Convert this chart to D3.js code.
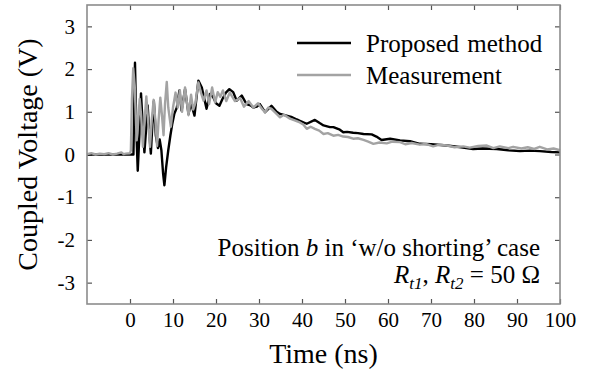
<!DOCTYPE html>
<html>
<head>
<meta charset="utf-8">
<script src="https://cdn.jsdelivr.net/npm/d3@7"></script>
<style>
  body { margin: 0; background: #fff; }
  svg, svg text { font-family: "Liberation Serif", "Times New Roman", serif; }
</style>
</head>
<body>
<div id="chart"></div>
<script>
// series: [time (ns), voltage (V)]
const proposed = [
  [-10,0],[0.8,0],[1.16,2.15],[1.5,0.5],[1.8,-0.38],[2.2,0.5],[2.56,1.43],[2.95,0.7],
  [3.35,0.05],[3.75,0.6],[4.1,1.15],[4.5,0.5],[4.85,0.02],[5.2,0.7],[5.55,1.25],[6.0,0.45],
  [6.5,0.15],[6.9,0.35],[7.3,0.1],[7.7,-0.45],[8.0,-0.72],[8.4,-0.3],[8.9,0.1],[9.4,0.45],
  [9.8,0.7],[10.3,0.95],[10.9,1.1],[11.5,1.5],[12.0,1.03],[12.8,1.53],[13.6,0.95],[14.2,1.2],
  [15.0,0.91],[15.9,1.73],[16.7,1.57],[17.2,1.34],[17.8,1.07],[18.6,1.42],[19.3,1.35],[20.0,1.2],
  [20.8,1.14],[21.5,1.3],[22.3,1.45],[23.1,1.53],[24.0,1.46],[24.8,1.26],[26.0,1.38],[27.1,1.18],
  [28.0,1.15],[28.7,1.1],[29.5,1.12],[30.2,1.18],[31.4,0.99],[32.9,1.14],[34.1,1.0],[34.9,0.95],
  [36.4,0.91],[37.5,0.88],[38.8,0.82],[39.5,0.79],[41.1,0.72],[43,0.81],[44.2,0.73],[45,0.68],
  [46.5,0.64],[47.3,0.64],[48.8,0.58],[49.6,0.52],[50.5,0.53],[51.9,0.51],[53,0.5],[54.3,0.48],
  [56.2,0.47],[57.3,0.42],[58.5,0.34],[60.5,0.37],[62.8,0.33],[65.1,0.31],[67.4,0.25],[70,0.24],
  [73.7,0.21],[77,0.17],[79.8,0.13],[82,0.14],[85.3,0.13],[88,0.1],[90.7,0.08],[93,0.09],
  [95.3,0.08],[98,0.06],[100,0.05]
];

const measured = [
  [-10,0.01],[-9,0.03],[-8,0.0],[-7,0.02],[-6,0.01],[-5,0.03],[-4,0.0],[-3,0.02],[-2,0.05],
  [-1.5,0.01],[-1,0.02],[0,0.03],[0.2,0.1],[0.45,1.3],[0.75,2.02],[1.1,1.6],[1.55,0.33],[1.85,0.7],
  [2.25,1.3],[2.6,0.9],[3.0,0.18],[3.4,0.8],[3.8,1.36],[4.2,0.8],[4.65,0.18],[5.05,0.8],[5.5,1.28],
  [5.9,0.8],[6.3,0.2],[6.65,0.8],[7.05,1.33],[7.45,0.9],[7.8,0.45],[8.15,1.2],[8.55,1.7],[8.9,1.1],
  [9.5,0.65],[10.0,1.1],[10.6,1.45],[11.1,1.1],[11.6,1.5],[12.1,1.0],[12.8,1.57],[13.6,0.92],
  [14.2,1.4],[14.7,1.05],[15.2,1.2],[15.9,1.69],[16.5,1.45],[17.1,1.26],[17.8,1.5],[18.4,1.18],
  [19.1,1.57],[19.8,1.22],[20.4,1.46],[21.0,1.35],[21.6,1.5],[22.4,1.25],[23.2,1.45],[24.4,1.25],
  [25.6,1.32],[26.5,1.12],[27.6,1.25],[28.7,1.1],[29.8,1.2],[30.6,1.08],[31.4,0.99],[32.2,1.1],
  [32.9,1.07],[33.8,0.98],[34.9,0.87],[35.8,0.93],[37.2,0.84],[38.3,0.8],[39.5,0.75],[40.3,0.7],
  [41.1,0.6],[42.0,0.65],[43,0.6],[44,0.56],[45,0.48],[46,0.5],[47.3,0.44],[48.4,0.46],[49.6,0.42],
  [50.7,0.41],[51.9,0.37],[53,0.38],[54.3,0.34],[55.4,0.3],[56.6,0.25],[58,0.28],[59.7,0.26],
  [61,0.3],[62.8,0.29],[64,0.24],[65.5,0.27],[67.4,0.23],[68.8,0.25],[70.5,0.19],[72,0.23],
  [73.7,0.21],[75.5,0.17],[77.5,0.19],[79,0.16],[81,0.2],[83,0.21],[84.5,0.15],[86,0.19],
  [88,0.15],[89.1,0.18],[91,0.14],[92.5,0.17],[94,0.13],[95.3,0.18],[97,0.12],[98.5,0.14],[100,0.1]
];

const xTicks = [0, 10, 20, 30, 40, 50, 60, 70, 80, 90, 100];
const yTicks = [-3, -2, -1, 0, 1, 2, 3];
const seriesNames = ['Proposed method', 'Measurement'];
const seriesColors = ['#000000', '#a3a3a3'];

const W = 592, H = 373;
const margin = { top: 5, right: 32, bottom: 69, left: 87 };
const width = W - margin.left - margin.right;
const height = H - margin.top - margin.bottom;
const serif = '"Liberation Serif", "Times New Roman", serif';

const svg = d3.select('#chart').append('svg')
  .attr('width', W)
  .attr('height', H);

const g = svg.append('g')
  .attr('transform', 'translate(' + margin.left + ',' + margin.top + ')');

const x = d3.scaleLinear().domain([-10, 100]).range([0, width]);
const y = d3.scaleLinear().domain([-3.5, 3.5]).range([height, 0]);

// axes: ticks point inward on all four sides
const tickLen = 5;
const fmt = d => String(d);   // plain hyphen for negatives, like the original
const axisB = g.append('g').attr('transform', 'translate(0,' + height + ')')
  .call(d3.axisBottom(x).tickValues(xTicks).tickFormat(fmt)
    .tickSizeInner(-tickLen).tickSizeOuter(0).tickPadding(8));
const axisL = g.append('g')
  .call(d3.axisLeft(y).tickValues(yTicks).tickFormat(fmt)
    .tickSizeInner(-tickLen).tickSizeOuter(0).tickPadding(12));
const axisT = g.append('g')
  .call(d3.axisTop(x).tickValues(xTicks).tickSizeInner(-tickLen).tickSizeOuter(0).tickFormat(''));
const axisR = g.append('g').attr('transform', 'translate(' + width + ',0)')
  .call(d3.axisRight(y).tickValues(yTicks).tickSizeInner(-tickLen).tickSizeOuter(0).tickFormat(''));

[axisB, axisL, axisT, axisR].forEach(a => {
  a.attr('font-family', serif).attr('font-size', 21);
  a.select('.domain').remove();
  a.selectAll('line').attr('stroke', '#555').attr('stroke-width', 1.2);
  a.selectAll('text').attr('fill', '#000');
});

// lines: proposed underneath, measurement drawn over it
const line = d3.line()
  .x(d => x(d[0]))
  .y(d => y(d[1]));

g.append('path')
  .datum(proposed)
  .attr('fill', 'none')
  .attr('stroke', seriesColors[0])
  .attr('stroke-width', 2.4)
  .attr('stroke-linejoin', 'round')
  .attr('d', line);

g.append('path')
  .datum(measured)
  .attr('fill', 'none')
  .attr('stroke', seriesColors[1])
  .attr('stroke-width', 2.4)
  .attr('stroke-linejoin', 'round')
  .attr('d', line);

// frame
g.append('rect')
  .attr('width', width)
  .attr('height', height)
  .attr('fill', 'none')
  .attr('stroke', '#8c8c8c')
  .attr('stroke-width', 1.6);

// axis titles
svg.append('text')
  .attr('x', margin.left + width / 2)
  .attr('y', 363)
  .attr('text-anchor', 'middle')
  .attr('font-family', serif)
  .attr('font-size', 28)
  .text('Time (ns)');

svg.append('text')
  .attr('transform', 'translate(37,' + (margin.top + height / 2) + ') rotate(-90)')
  .attr('text-anchor', 'middle')
  .attr('font-family', serif)
  .attr('font-size', 28)
  .text('Coupled Voltage (V)');

// legend
const legend = svg.append('g').attr('transform', 'translate(297,43)');
seriesNames.forEach((name, i) => {
  const row = legend.append('g').attr('transform', 'translate(0,' + (i * 32) + ')');
  row.append('line')
    .attr('x1', 0).attr('x2', 54)
    .attr('stroke', seriesColors[i])
    .attr('stroke-width', 2.6);
  row.append('text')
    .attr('x', 69)
    .attr('y', 9)
    .attr('font-family', serif)
    .attr('font-size', 25)
    .style('word-spacing', '2px')
    .text(name);
});

// annotation
const note1 = svg.append('text')
  .attr('x', 540)
  .attr('y', 256)
  .attr('text-anchor', 'end')
  .attr('font-family', serif)
  .attr('font-size', 25);
note1.append('tspan').text('Position ');
note1.append('tspan').style('font-style', 'italic').text('b');
note1.append('tspan').text(' in \u2018w/o shorting\u2019 case');

const note2 = svg.append('text')
  .attr('x', 540)
  .attr('y', 283)
  .attr('text-anchor', 'end')
  .attr('font-family', serif)
  .attr('font-size', 25);
note2.append('tspan').style('font-style', 'italic').text('R');
note2.append('tspan').style('font-style', 'italic').attr('font-size', 17).attr('dy', 6).text('t1');
note2.append('tspan').attr('dy', -6).text(', ');
note2.append('tspan').style('font-style', 'italic').text('R');
note2.append('tspan').style('font-style', 'italic').attr('font-size', 17).attr('dy', 6).text('t2');
note2.append('tspan').attr('dy', -6).text(' = 50 \u03A9');
</script>
</body>
</html>
